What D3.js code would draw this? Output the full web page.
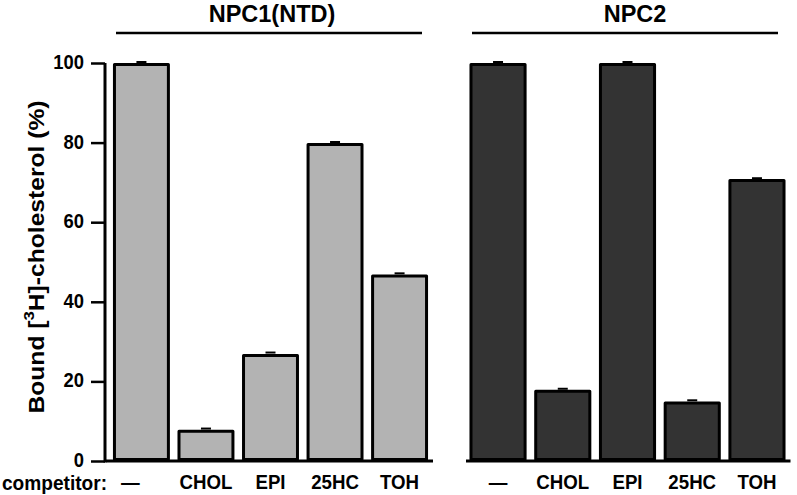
<!DOCTYPE html>
<html>
<head>
<meta charset="utf-8">
<script src="https://cdn.jsdelivr.net/npm/d3@7"></script>
<style>
  body { margin: 0; background: #fff; }
  svg { display: block; font-family: "Liberation Sans", Arial, sans-serif; font-weight: bold; }
</style>
</head>
<body>
<svg id="chart" width="797" height="495"></svg>
<script>
const categories = ["—", "CHOL", "EPI", "25HC", "TOH"];
const groups = ["NPC1(NTD)", "NPC2"];
const npc1Values = [99.6, 7.5, 26.5, 79.5, 46.5];
const npc2Values = [99.6, 17.5, 99.6, 14.6, 70.5];
const npc1Errors = [0.4, 0.4, 0.5, 0.4, 0.4];
const npc2Errors = [0.4, 0.4, 0.4, 0.4, 0.3];
const yTicks = [0, 20, 40, 60, 80, 100];
const groupColors = ["#b3b3b3", "#333333"];

const FONT = "Liberation Sans, Arial, sans-serif";
const svg = d3.select("#chart");
const y = d3.scaleLinear().domain([0, 100]).range([461, 63]);

const groupDefs = [
  { name: groups[0], values: npc1Values, errors: npc1Errors, color: groupColors[0],
    x: d3.scaleBand().domain(categories).range([108, 433]).paddingInner(0.164).paddingOuter(0.1),
    header: [116, 422], axisStart: 106, titleX: 272 },
  { name: groups[1], values: npc2Values, errors: npc2Errors, color: groupColors[1],
    x: d3.scaleBand().domain(categories).range([464.5, 790.5]).paddingInner(0.164).paddingOuter(0.1),
    header: [472, 778], axisStart: 466, titleX: 635 }
];

const sx = 0.89;

groupDefs.forEach((g, gi) => {
  const data = categories.map((c, i) => ({ c, v: g.values[i], e: g.errors[i] }));
  const grp = svg.append("g");

  grp.selectAll("rect.bar").data(data).enter().append("rect")
    .attr("class", "bar")
    .attr("x", d => g.x(d.c))
    .attr("width", g.x.bandwidth())
    .attr("y", d => y(d.v))
    .attr("height", d => y(0) - y(d.v) - 1.5)
    .attr("fill", g.color)
    .attr("stroke", "#000")
    .attr("stroke-width", 3)
    .attr("stroke-linejoin", "round");

  grp.selectAll("line.err").data(data).enter().append("line")
    .attr("x1", d => g.x(d.c) + g.x.bandwidth() / 2 - 5)
    .attr("x2", d => g.x(d.c) + g.x.bandwidth() / 2 + 5)
    .attr("y1", d => y(d.v + d.e) - 1)
    .attr("y2", d => y(d.v + d.e) - 1)
    .attr("stroke", "#000")
    .attr("stroke-width", 2);

  const xAxis = d3.axisBottom(g.x).tickSize(0);
  const ax = grp.append("g").attr("transform", `translate(0,${y(0)})`).call(xAxis);
  ax.select(".domain").attr("d", `M${g.axisStart},0H${g.x.range()[1]}`)
    .attr("stroke", "#000").attr("stroke-width", 3);
  ax.selectAll("text")
    .attr("y", 28).attr("dy", 0)
    .attr("font-size", 21).attr("font-weight", "bold")
    .attr("font-family", FONT).attr("fill", "#000")
    .attr("transform", `scale(${sx},1)`);
  if (gi === 0) {
    ax.selectAll(".tick").filter(d => d === "—").select("text").attr("x", -11 / sx);
  }

  svg.append("line")
    .attr("x1", g.header[0]).attr("x2", g.header[1])
    .attr("y1", 33).attr("y2", 33)
    .attr("stroke", "#000").attr("stroke-width", 2.5);
  svg.append("text")
    .attr("x", g.titleX)
    .attr("y", 22)
    .attr("text-anchor", "middle")
    .attr("font-size", 23.5)
    .text(g.name);
});

// y axis
const ysx = 0.92;
const yAxis = d3.axisLeft(y).tickValues(yTicks).tickSize(14).tickSizeOuter(0).tickPadding(7);
const yg = svg.append("g").attr("transform", "translate(105,0)").call(yAxis);
yg.select(".domain").attr("stroke", "#000").attr("stroke-width", 3)
  .attr("d", `M0,${y(100)}V${y(0) + 1.5}`);
yg.selectAll(".tick line").attr("stroke", "#000").attr("stroke-width", 2.5);
yg.selectAll("text")
  .attr("x", -21 / ysx)
  .attr("dy", "0.27em")
  .attr("font-size", 20).attr("font-weight", "bold")
  .attr("font-family", FONT).attr("fill", "#000")
  .attr("transform", `scale(${ysx},1)`);

// y axis title
const yt = svg.append("text")
  .attr("transform", "translate(44,257) rotate(-90) scale(1.12,1)")
  .attr("text-anchor", "middle")
  .attr("font-size", 22);
yt.append("tspan").text("Bound [");
yt.append("tspan").attr("dy", -10).attr("font-size", 15).text("3");
yt.append("tspan").attr("dy", 10).text("H]-cholesterol (%)");

// competitor label
svg.append("text")
  .attr("transform", `translate(2,${y(0) + 28.5}) scale(${sx + 0.02},1)`)
  .attr("font-size", 21)
  .text("competitor:");
</script>
</body>
</html>
